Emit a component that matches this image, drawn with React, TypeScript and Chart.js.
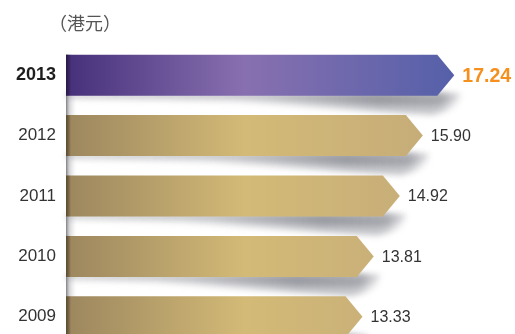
import React, { useEffect, useRef } from 'react';
import { Chart, registerables } from 'chart.js';

Chart.register(...registerables);

const years = ['2013', '2012', '2011', '2010', '2009'];
const prices = [17.24, 15.9, 14.92, 13.81, 13.33];
const priceLabels = ['17.24', '15.90', '14.92', '13.81', '13.33'];
const unitText = '（港元）';

const FONT = '"Liberation Sans", Arial, sans-serif';

const arrowPlugin = {
  id: 'arrowBars',
  afterDatasetsDraw(chart: any) {
    const ctx: CanvasRenderingContext2D = chart.ctx;
    const meta = chart.getDatasetMeta(0);
    const area = chart.chartArea;
    const left = area.left;
    const gradEnd = chart.scales.x.getPixelForValue(prices[0]);
    const els = meta.data.map((el: any) => el.getProps(['x', 'y', 'base', 'height'], true));
    const ARROW = 17;

    ctx.save();
    // vertical left strip
    const firstTop = els[0].y - els[0].height / 2;
    const sg = ctx.createLinearGradient(left, 0, left + 11, 0);
    sg.addColorStop(0, 'rgba(95,95,100,0.8)');
    sg.addColorStop(0.3, 'rgba(160,160,165,0.45)');
    sg.addColorStop(1, 'rgba(225,225,230,0)');
    ctx.fillStyle = sg;
    ctx.fillRect(left, firstTop, 11, chart.height - firstTop);

    // shadows (two layers: broad wedge + darker band near the bar)
    const drawWedge = (e: any, depth: number, alpha: number, blur: number) => {
      const bottom = e.y + e.height / 2;
      const rectEnd = e.x - ARROW;
      const start = left;
      const end = e.x + 12;
      const span = end - start;
      const f = (px: number) => Math.min(1, Math.max(0, (px - start) / span));
      ctx.save();
      ctx.filter = `blur(${blur}px)`;
      ctx.globalAlpha = alpha;
      const g = ctx.createLinearGradient(start, 0, end, 0);
      g.addColorStop(0, 'rgba(135,137,145,0.35)');
      g.addColorStop(f(rectEnd - 170), 'rgba(135,137,145,0.55)');
      g.addColorStop(f(rectEnd - 60), 'rgba(125,127,136,1)');
      g.addColorStop(f(rectEnd + 4), 'rgba(130,132,140,0.85)');
      g.addColorStop(1, 'rgba(160,160,168,0)');
      ctx.fillStyle = g;
      ctx.beginPath();
      ctx.moveTo(start, bottom - 3);
      ctx.lineTo(e.x + 6, bottom - 3);
      ctx.quadraticCurveTo(e.x + 10, bottom + depth * 0.6, rectEnd - 5, bottom + depth);
      ctx.lineTo(rectEnd - 200, bottom + depth * 0.3);
      ctx.lineTo(start, bottom + 3);
      ctx.closePath();
      ctx.fill();
      ctx.restore();
    };
    els.forEach((e: any) => {
      drawWedge(e, 19, 0.55, 3);
      drawWedge(e, 10, 0.5, 2.5);
    });

    // bars
    els.forEach((e: any, i: number) => {
      const top = e.y - e.height / 2;
      const bottom = e.y + e.height / 2;
      const base = Math.max(e.base, left);
      const rectEnd = e.x - ARROW;
      const g = ctx.createLinearGradient(left, 0, gradEnd, 0);
      if (i === 0) {
        g.addColorStop(0, '#46307a');
        g.addColorStop(0.46, '#8870b0');
        g.addColorStop(1, '#5560a9');
      } else {
        g.addColorStop(0, '#9c865e');
        g.addColorStop(0.46, '#d3ba77');
        g.addColorStop(1, '#c4aa78');
      }
      ctx.fillStyle = g;
      ctx.beginPath();
      ctx.moveTo(base, top);
      ctx.lineTo(rectEnd, top);
      ctx.lineTo(e.x, e.y);
      ctx.lineTo(rectEnd, bottom);
      ctx.lineTo(base, bottom);
      ctx.closePath();
      ctx.fill();
      const eg = ctx.createLinearGradient(base, 0, base + 5, 0);
      eg.addColorStop(0, i === 0 ? 'rgba(20,10,40,0.6)' : 'rgba(50,35,15,0.6)');
      eg.addColorStop(1, 'rgba(0,0,0,0)');
      ctx.fillStyle = eg;
      ctx.fillRect(base, top, 5, e.height);

      // value labels
      ctx.textBaseline = 'middle';
      ctx.textAlign = 'left';
      if (i === 0) {
        ctx.font = `bold 19.5px ${FONT}`;
        ctx.fillStyle = '#f5901e';
      } else {
        ctx.font = `16px ${FONT}`;
        ctx.fillStyle = '#333333';
      }
      ctx.fillText(priceLabels[i], e.x + 8, e.y + 1);
    });

    // unit text
    ctx.font = `18px "Noto Sans CJK SC", sans-serif`;
    ctx.fillStyle = '#555555';
    ctx.textBaseline = 'middle';
    ctx.textAlign = 'left';
    ctx.fillText(unitText, 49, 23);
    ctx.restore();
  },
};

export default function App() {
  const ref = useRef<HTMLCanvasElement | null>(null);
  useEffect(() => {
    if (!ref.current) return;
    const chart = new Chart(ref.current, {
      type: 'bar',
      data: {
        labels: years,
        datasets: [
          {
            data: prices,
            base: 0.7,
            backgroundColor: 'rgba(0,0,0,0)',
            borderWidth: 0,
            barThickness: 41,
          },
        ],
      },
      options: {
        indexAxis: 'y',
        responsive: false,
        animation: false,
        layout: { padding: { top: 45, right: 10, bottom: 33, left: 0 } },
        plugins: {
          legend: { display: false },
          tooltip: { enabled: false },
          title: { display: false },
        },
        scales: {
          x: { display: false, min: 0.7, max: 19.4 },
          y: {
            grid: { display: false, drawTicks: false },
            border: { display: false },
            ticks: {
              padding: 10,
              color: (c: any) => (c.index === 0 ? '#1e1e1e' : '#333333'),
              font: (c: any) =>
                c.index === 0
                  ? { family: FONT, size: 18, weight: 'bold' }
                  : { family: FONT, size: 17 },
            },
            afterFit(scale: any) {
              scale.width = 66;
            },
          },
        },
      },
      plugins: [arrowPlugin],
    } as any);
    return () => chart.destroy();
  }, []);

  return (
    <div style={{ position: 'absolute', left: 0, top: 0, width: 515, height: 334, overflow: 'hidden', background: '#fff' }}>
      <canvas ref={ref} width={515} height={380} style={{ display: 'block' }} />
    </div>
  );
}
